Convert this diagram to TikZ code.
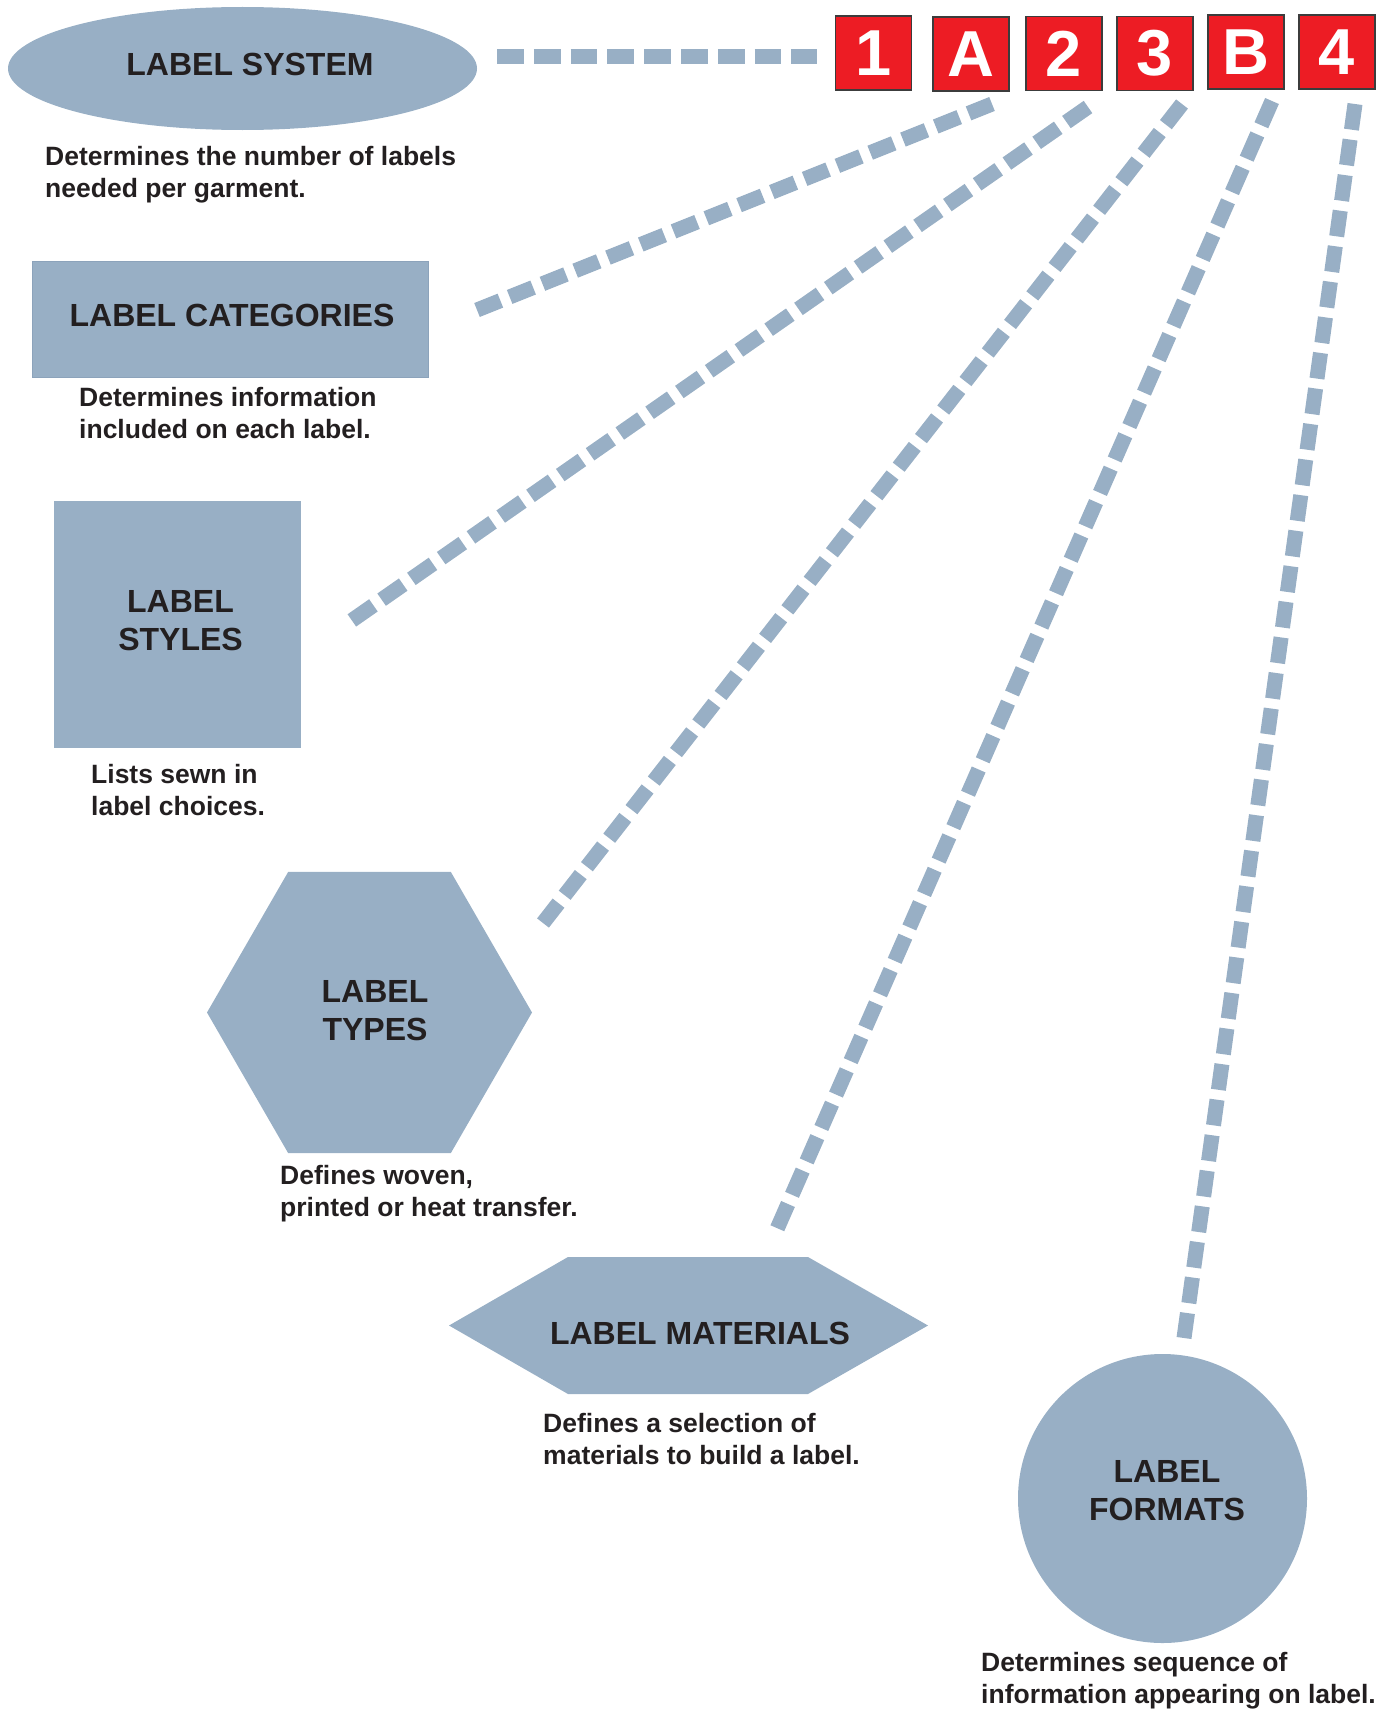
\documentclass[tikz,border=0pt]{standalone}
\usepackage{fontspec}
\setmainfont{Liberation Sans}
\usetikzlibrary{shapes.geometric}
\definecolor{lblue}{RGB}{152,175,197}
\definecolor{lbord}{RGB}{140,163,187}
\definecolor{lred}{RGB}{237,28,36}
\definecolor{ink}{RGB}{35,31,32}
\definecolor{bord}{RGB}{60,60,60}
\begin{document}
\begin{tikzpicture}[x=1pt,y=-1pt,
  shapebox/.style={fill=lblue, inner sep=0pt, outer sep=0pt},
  title/.style={font=\fontsize{32}{38}\selectfont\bfseries, text=ink, align=center, inner sep=0pt},
  desc/.style={font=\fontsize{26.5}{32}\selectfont\bfseries, text=ink, align=left, inner sep=0pt, anchor=base west},
  redbox/.style={fill=lred, draw=bord, line width=1.2pt, minimum width=76pt, minimum height=74pt, inner sep=0pt, outer sep=0pt, text=white, font=\fontsize{65}{65}\selectfont\bfseries},
  conn/.style={draw=lblue, line width=15pt, dash pattern=on #1 off 10pt}
]
\useasboundingbox (0,0) rectangle (1395,1710);

% label system
\node[shapebox, ellipse, minimum width=469pt, minimum height=123pt] (sys) at (242.5,68.5) {};
\node[title] (sys-t) at ([shift={(7.5pt,3.8pt)}]sys.center) {LABEL SYSTEM};
\node[desc] (sys-d) at (45,197) {Determines the number of labels\\needed per garment.};

% label categories
\node[shapebox, draw=lbord, line width=1pt, minimum width=396pt, minimum height=116pt] (cat) at (230,319) {};
\node[title] (cat-t) at ([shift={(2pt,4pt)}]cat.center) {LABEL CATEGORIES};
\node[desc] (cat-d) at (79,438) {Determines information\\included on each label.};

% label styles
\node[shapebox, minimum size=247pt] (sty) at (177.5,624.5) {};
\node[title] (sty-t) at ([shift={(3pt,3.5pt)}]sty.center) {LABEL\\STYLES};
\node[desc] (sty-d) at (91,815) {Lists sewn in\\label choices.};

% label types
\node[shapebox, regular polygon, regular polygon sides=6, minimum size=325pt] (typ) at (369.5,1012.5) {};
\node[title] (typ-t) at ([shift={(5.5pt,1.5pt)}]typ.center) {LABEL\\TYPES};
\node[desc] (typ-d) at (280,1216) {Defines woven,\\ printed or heat transfer.};

% label materials
\node[minimum width=479pt, minimum height=137pt, inner sep=0pt, outer sep=0pt] (mat) at (688.5,1325.5) {};
\fill[lblue] (mat.west) -- ([xshift=119pt]mat.north west) -- ([xshift=-120pt]mat.north east)
  -- (mat.east) -- ([xshift=-120pt]mat.south east) -- ([xshift=119pt]mat.south west) -- cycle;
\node[title] (mat-t) at ([shift={(11.5pt,-7.5pt)}]mat.center) {LABEL MATERIALS};
\node[desc] (mat-d) at (543,1464) {Defines a selection of\\materials to build a label.};

% label formats
\node[shapebox, circle, minimum size=289pt] (fmt) at (1162.5,1498.5) {};
\node[title] (fmt-t) at ([shift={(4.5pt,7.5pt)}]fmt.center) {LABEL\\FORMATS};
\node[desc] (fmt-d) at (981,1703) {Determines sequence of\\information appearing on label.};

% red boxes
\node[redbox] (b1) at (873.5,53) {1};
\node[redbox] (bA) at (971,54) {A};
\node[redbox] (b2) at (1064,53.5) {2};
\node[redbox] (b3) at (1155,53.5) {3};
\node[redbox] (bB) at (1246,52) {B};
\node[redbox] (b4) at (1337,52) {4};

% connectors
\draw[conn=26.8pt] ([shift={(20pt,12pt)}]sys.east) -- ([shift={(-18.5pt,-3.5pt)}]b1.west);
\draw[conn=25.3pt] ([shift={(21pt,-13pt)}]bA.south) -- ([shift={(49pt,9pt)}]cat.east);
\draw[conn=26.3pt] ([shift={(24pt,-16.5pt)}]b2.south) -- ([shift={(50pt,3.5pt)}]sty.east);
\draw[conn=26.2pt] ([shift={(27pt,-13.5pt)}]b3.south) -- ([shift={(173.5pt,89.5pt)}]typ.center);
\draw[conn=26.5pt] ([shift={(26pt,-12pt)}]bB.south) -- ([shift={(88.5pt,28pt)}]mat.north);
\draw[conn=25.9pt] ([shift={(18pt,-15pt)}]b4.south) -- ([shift={(21.5pt,16pt)}]fmt.north);
\end{tikzpicture}
\end{document}
